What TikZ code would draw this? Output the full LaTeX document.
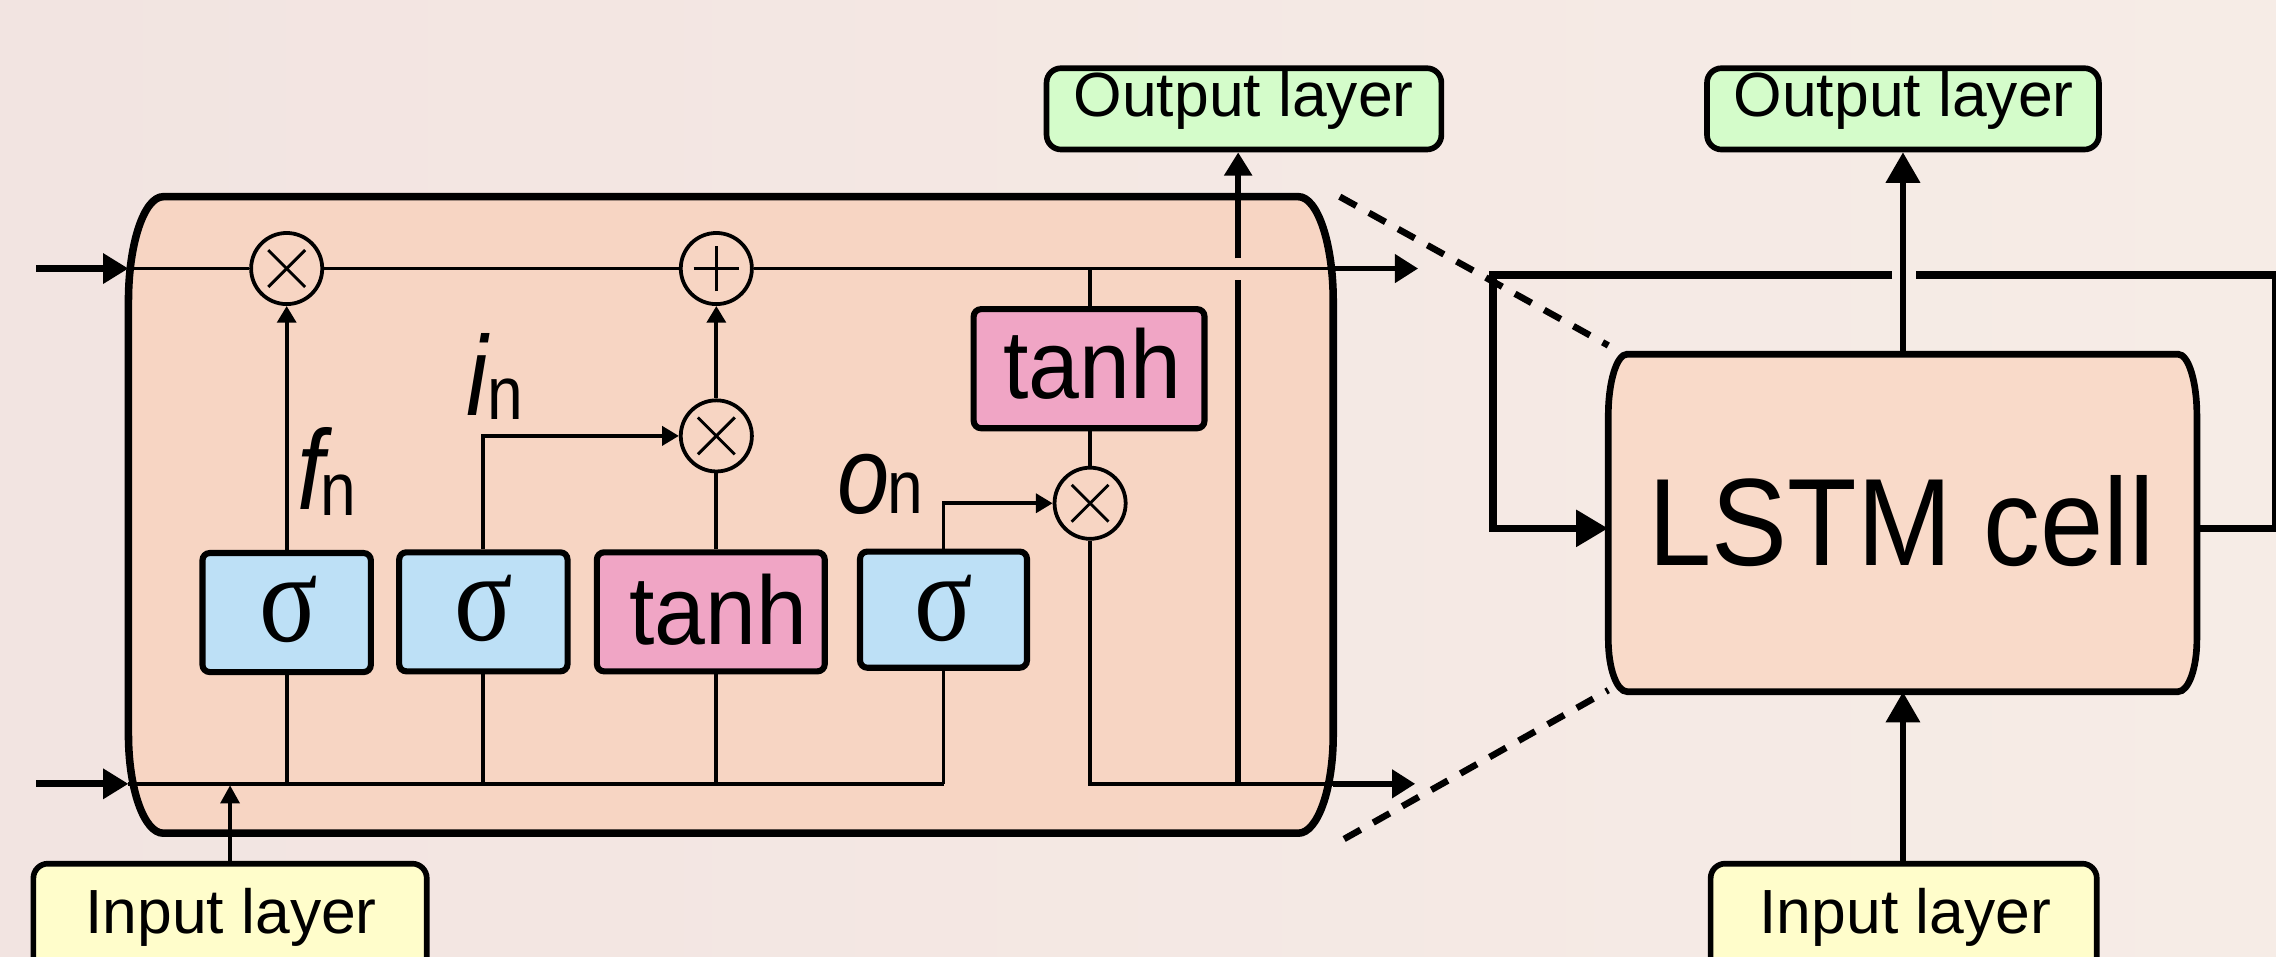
\documentclass[tikz,border=0pt]{standalone}
\usepackage{fontspec}
\setmainfont{Liberation Sans}
\newfontfamily\serifgr{Liberation Serif}
\usetikzlibrary{arrows.meta}

\definecolor{bgL}{HTML}{F2E4E1}
\definecolor{bgR}{HTML}{F6ECE6}
\definecolor{cellfill}{HTML}{F7D5C3}
\definecolor{lstmfill}{HTML}{F9DAC9}
\definecolor{sigfill}{HTML}{BDE0F6}
\definecolor{tanhfill}{HTML}{F0A5C5}
\definecolor{outfill}{HTML}{D4FCCA}
\definecolor{infill}{HTML}{FFFDCB}

\newcommand{\fsz}[1]{\fontsize{#1}{#1}\selectfont}

\begin{document}
\begin{tikzpicture}[x=1pt,y=-1pt,
  gatebox/.style={draw, line width=4.2pt, rounded corners=5pt, minimum width=116pt, minimum height=82pt, inner sep=0pt},
  sigbox/.style={gatebox, fill=sigfill},
  tanhbox/.style={gatebox, fill=tanhfill, minimum width=158pt},
  layerbox/.style={draw, line width=3.9pt, rounded corners=10pt, inner sep=0pt, minimum height=56pt},
  opcirc/.style={circle, draw, line width=2.6pt, minimum size=49pt, inner sep=0pt},
  mult/.style={opcirc, path picture={
      \draw[line width=2pt] ([xshift=-12.7pt,yshift=-12.7pt]path picture bounding box.center) -- ([xshift=12.7pt,yshift=12.7pt]path picture bounding box.center);
      \draw[line width=2pt] ([xshift=-12.7pt,yshift=12.7pt]path picture bounding box.center) -- ([xshift=12.7pt,yshift=-12.7pt]path picture bounding box.center);}},
  plus/.style={opcirc, path picture={
      \draw[line width=2pt] ([xshift=-15.6pt]path picture bounding box.center) -- ([xshift=15.6pt]path picture bounding box.center);
      \draw[line width=2pt] ([yshift=-15.6pt]path picture bounding box.center) -- ([yshift=15.6pt]path picture bounding box.center);}},
  thinline/.style={line width=2.6pt},
  smallhead/.style={-{Triangle[length=11.5pt,width=13pt]}},
  extarrow/.style={line width=4.8pt, -{Triangle[length=17.5pt,width=20pt]}},
  outarrow/.style={line width=3.9pt, -{Triangle[length=16pt,width=19pt]}},
  thickline/.style={line width=4.2pt},
  loopline/.style={line width=5pt},
  bigarrow/.style={line width=4pt, -{Triangle[length=21pt,width=23pt]}},
  dashline/.style={line width=4.5pt, dash pattern=on 13pt off 10pt},
  txt/.style={anchor=base, inner sep=0pt}
]
\useasboundingbox (0,0) rectangle (1568,659);
\clip (0,0) rectangle (1568,659);
\shade[left color=bgL, right color=bgR] (0,0) rectangle (1568,659);

% ---------- expanded cell ----------
\draw[line width=5.2pt, fill=cellfill]
 (112.5,135.5) -- (894.5,135.5)
 .. controls (907.7,135.5) and (918.5,168) .. (918.5,207.5)
 -- (918.5,506)
 .. controls (918.5,543.5) and (907.7,574) .. (894.5,574)
 -- (112.5,574)
 .. controls (99.3,574) and (88.5,543.5) .. (88.5,506)
 -- (88.5,207.5)
 .. controls (88.5,168) and (99.3,135.5) .. (112.5,135.5) -- cycle;

\coordinate (cinT) at (88.5,185);
\coordinate (cinB) at (88.5,540);
\coordinate (coutT) at (918.5,185);
\coordinate (coutB) at (918.5,540);
\coordinate (srcT) at (25,185);
\coordinate (srcB) at (25,540);
\coordinate (endT) at (977,185);
\coordinate (endB) at (975,540);
\coordinate (jv) at (853,540);
\coordinate (jvlo) at (853,193);
\coordinate (jvhi) at (853,178);
\coordinate (sigEnd) at (650,540);

% operators
\node[mult] (mulF) at (197.5,185) {};
\node[plus] (add) at (493.5,185) {};
\node[mult] (mulI) at (493.5,300.3) {};
\node[mult] (mulO) at (751,346.7) {};

% gates
\node[sigbox] (sig1) at (197.5,422) {};
\node[sigbox] (sig2) at (333,421.5) {};
\node[tanhbox, minimum width=157pt] (tanh1) at (489.7,421.5) {};
\node[sigbox, minimum width=115pt, minimum height=80pt] (sig3) at (650,420) {};
\node[tanhbox, minimum width=159pt] (tanh2) at (750.3,254) {};

\node[txt] (sig1t) at (198.6,442) {\serifgr\fsz{88}\scalebox{0.85}[1]{σ}};
\node[txt] (sig2t) at (333,441) {\serifgr\fsz{88}\scalebox{0.85}[1]{σ}};
\node[txt] (sig3t) at (650,441) {\serifgr\fsz{88}\scalebox{0.85}[1]{σ}};
\node[txt] (tanh1t) at (494.8,443.9) {\fsz{67}\scalebox{0.94}[1]{tanh}};
\node[txt] (tanh2t) at (752.4,274.4) {\fsz{67}\scalebox{0.94}[1]{tanh}};

% labels
\node[anchor=base west, inner sep=0pt] (fl) at (205,351) {\scalebox{0.85}[1]{\fsz{78}\itshape f}\kern-2.5pt\raisebox{-4pt}{\scalebox{0.85}[1]{\fsz{52}n}}};
\node[anchor=base west, inner sep=0pt] (il) at (321,286) {\scalebox{0.85}[1]{\fsz{78}\itshape i}\kern0pt\raisebox{-3pt}{\scalebox{0.85}[1]{\fsz{52}n}}};
\node[anchor=base west, inner sep=0pt] (ol) at (577,354) {\scalebox{0.85}[1]{\fsz{76}\itshape o}\kern-1.5pt\scalebox{0.85}[1]{\fsz{52}n}};

% cell state line
\draw[thinline] (cinT) -- (mulF) -- (add) -- (coutT);
\draw[extarrow] (srcT) -- (cinT);
\draw[outarrow] (coutT) -- (endT);

% input line
\draw[thinline] (cinB) -- (sigEnd);
\draw[extarrow] (srcB) -- (cinB);

% gate connections
\draw[thinline] (sig1.south) -- (sig1.south |- cinB);
\draw[thinline, smallhead] (sig1.north) -- (mulF);
\draw[thinline] (sig2.south) -- (sig2.south |- cinB);
\draw[thinline, smallhead] (sig2.north) |- (mulI);
\draw[thinline] (mulI |- tanh1.south) -- (mulI |- cinB);
\draw[thinline] (mulI |- tanh1.north) -- (mulI);
\draw[thinline, smallhead] (mulI) -- (add);
\draw[thinline] (sig3.south) -- (sigEnd);
\draw[thinline, smallhead] (sig3.north) |- (mulO);
\draw[thinline] (mulO |- add) -- (mulO |- tanh2.north);
\draw[thinline] (mulO |- tanh2.south) -- (mulO);
\draw[thinline] (mulO) |- (coutB);
\draw[outarrow] (coutB) -- (endB);

% output layer (left)
\node[layerbox, fill=outfill, minimum width=272pt] (outL) at (857,75) {};
\node[txt] (outLt) at (856.8,80.4) {\fsz{43}Output layer};
\draw[thickline] (jv) -- (jvlo);
\draw[line width=4.2pt, -{Triangle[length=16pt,width=18.5pt]}] (jvhi) -- (jvhi |- outL.south);

% input layer (left)
\node[layerbox, fill=infill, minimum width=271pt, minimum height=80pt] (inL) at (158.5,635) {};
\node[txt] (inLt) at (159.2,642.8) {\fsz{43}Input layer};
\draw[thinline, -{Triangle[length=12.5pt,width=13pt]}] (inL.north) -- (inL.north |- 0,541);

% ---------- compact LSTM cell ----------
\draw[line width=4.6pt, fill=lstmfill]
 (1121,244) -- (1500.5,244)
 .. controls (1507.7,244) and (1513.5,263) .. (1513.5,286)
 -- (1513.5,440.5)
 .. controls (1513.5,460.5) and (1507.7,476.5) .. (1500.5,476.5)
 -- (1121,476.5)
 .. controls (1113.8,476.5) and (1108,460.5) .. (1108,440.5)
 -- (1108,286)
 .. controls (1108,263) and (1113.8,244) .. (1121,244) -- cycle;
\node[minimum width=405.5pt, minimum height=232.5pt, inner sep=0pt] (lstm) at (1310.75,360.25) {};
\node[txt] (lstmt) at (1310,389.3) {\fsz{85.6}\scalebox{0.916}[1]{LSTM cell}};

\node[layerbox, fill=outfill, minimum width=270pt] (outR) at (1311,75) {};
\node[txt] (outRt) at (1311.5,80) {\fsz{43}Output layer};
\node[layerbox, fill=infill, minimum width=266pt, minimum height=80pt] (inR) at (1311.5,635) {};
\node[txt] (inRt) at (1312.6,643) {\fsz{43}Input layer};

\draw[bigarrow] (lstm.north -| outR.south) -- (outR.south);
\draw[bigarrow] (inR.north -| outR.south) -- (lstm.south -| outR.south);

% feedback loop
\coordinate (fbR) at (1567.5,364);
\coordinate (fbRt) at (1567.5,189.5);
\coordinate (gapR) at (1320,189.5);
\coordinate (gapL) at (1303.5,189.5);
\coordinate (fbLt) at (1028.6,189.5);
\coordinate (fbL) at (1028.6,364);
\draw[loopline] (lstm.east |- fbR) -- (fbR) -- (fbRt) -- (gapR);
\draw[loopline, -{Triangle[length=22pt,width=24.5pt]}] (gapL) -- (fbLt) -- (fbL) -- (lstm.west |- fbL);

% zoom dashes
\coordinate (dA) at (923,135.5);
\coordinate (dB) at (1108,238);
\coordinate (dC) at (926,578);
\coordinate (dD) at (1108,475.5);
\draw[dashline] (dA) -- (dB);
\draw[dashline] (dC) -- (dD);
\end{tikzpicture}
\end{document}
